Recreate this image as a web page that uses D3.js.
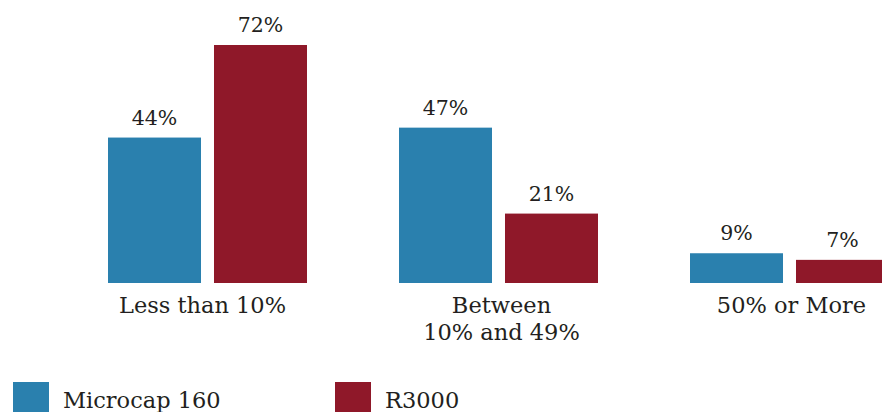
<!DOCTYPE html>
<html><head><meta charset="utf-8">
<script src="https://cdn.jsdelivr.net/npm/d3@7/dist/d3.min.js"></script>
<style>
html,body{margin:0;padding:0;background:#fff;overflow:hidden}
text{font-family:"DejaVu Serif",serif;fill:#231f20}
</style></head>
<body><svg id="c" width="882" height="412"></svg>
<script>
const categories = [["Less than 10%"], ["Between", "10% and 49%"], ["50% or More"]];
const seriesNames = ["Microcap 160", "R3000"];
const microcap = [44, 47, 9];
const r3000 = [72, 21, 7];
const colors = ["#2a80ae", "#8f1829"];

const svg = d3.select("#c");
const baseY = 283;
const x0 = d3.scaleBand().domain(d3.range(categories.length)).range([94, 967]).paddingInner(0).paddingOuter(0);
const x1 = d3.scaleBand().domain(d3.range(seriesNames.length)).range([14, 213]).paddingInner(0.1226);
const y = d3.scaleLinear().domain([0, 72]).range([baseY, 45]);

const data = categories.map((c, i) => ({i, vals: [microcap[i], r3000[i]]}));
const g = svg.selectAll("g.grp").data(data).join("g").attr("class","grp")
  .attr("transform", d => `translate(${x0(d.i)},0)`);
g.selectAll("rect").data(d => d.vals).join("rect")
  .attr("x", (v, j) => x1(j)).attr("width", x1.bandwidth())
  .attr("y", v => y(v)).attr("height", v => baseY - y(v))
  .attr("fill", (v, j) => colors[j]);
g.selectAll("text.val").data(d => d.vals).join("text").attr("class","val")
  .attr("x", (v, j) => x1(j) + x1.bandwidth()/2).attr("y", v => y(v) - 13)
  .attr("text-anchor","middle").attr("font-size", 20.5).text(v => v + "%");

g.append("text").attr("class","cat").attr("text-anchor","middle").attr("font-size",22.5)
  .each(function(d){
    const t = d3.select(this);
    const cx = (x1(0) + x1(1) + x1.bandwidth())/2 + (d.i === 0 ? -5 : d.i === 1 ? 3 : 2);
    categories[d.i].forEach((line, k) => {
      t.append("tspan").attr("x", cx).attr("y", 313 + k*27).text(line);
    });
  });

const legX = [13, 335];
const lg = svg.selectAll("g.leg").data(seriesNames).join("g").attr("class","leg")
  .attr("transform", (d,i) => `translate(${legX[i]},382)`);
lg.append("rect").attr("width",36).attr("height",36).attr("fill",(d,i)=>colors[i]);
lg.append("text").attr("x",50).attr("y",26).attr("font-size",22.5).text(d=>d);
</script></body></html>
